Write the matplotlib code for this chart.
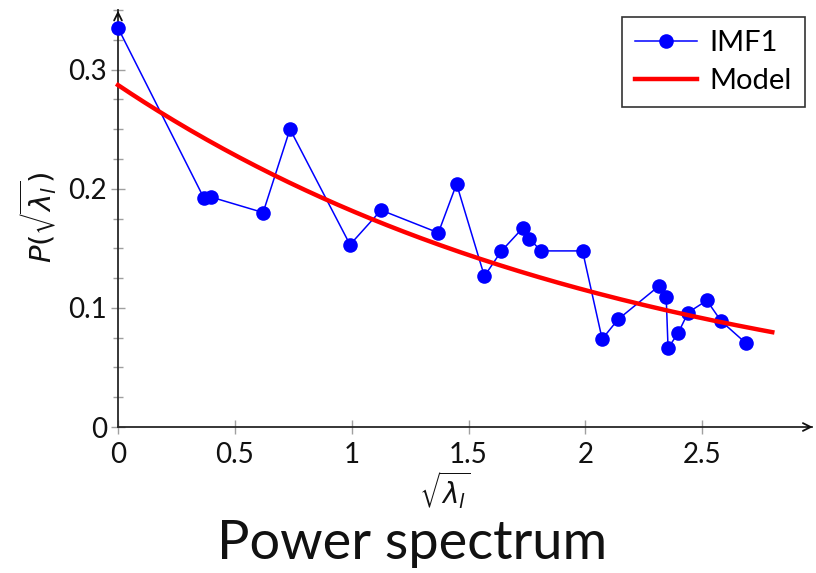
import numpy as np
import matplotlib
matplotlib.use("Agg")
import matplotlib.pyplot as plt
from matplotlib.ticker import FixedLocator
from matplotlib import font_manager

plt.rcParams['font.family'] = ['Lato', 'DejaVu Sans']
plt.rcParams['mathtext.fontset'] = 'dejavusans'

# IMF1 data
imf_x = [0.0, 0.368, 0.398, 0.621, 0.736, 0.993, 1.126, 1.371, 1.449, 1.568,
         1.640, 1.732, 1.761, 1.810, 1.988, 2.072, 2.140, 2.316, 2.346, 2.354,
         2.397, 2.440, 2.520, 2.581, 2.687]
imf_y = [0.335, 0.192, 0.193, 0.180, 0.250, 0.153, 0.182, 0.163, 0.204, 0.1266,
         0.1475, 0.167, 0.158, 0.1478, 0.1478, 0.0738, 0.0903, 0.1185, 0.1092, 0.0662,
         0.0788, 0.0961, 0.1062, 0.0889, 0.0704]

# Model: exponential decay a*exp(-b*x) over [0, 2.8]
model_a = 0.287
model_b = 0.458
model_xmax = 2.8

x_ticks = [0, 0.5, 1, 1.5, 2, 2.5]
x_ticklabels = ['0', '0.5', '1', '1.5', '2', '2.5']
y_ticks = [0, 0.1, 0.2, 0.3]
y_ticklabels = ['0', '0.1', '0.2', '0.3']
y_minor = [0.025, 0.05, 0.075, 0.125, 0.15, 0.175, 0.225, 0.25, 0.275, 0.325, 0.35]

fig = plt.figure(figsize=(8.16, 5.73), dpi=100)
ax = fig.add_axes([118/816, 1-427/573, 694/816, 417/573])

mx = np.linspace(0, model_xmax, 200)
my = model_a * np.exp(-model_b * mx)

ax.plot(imf_x, imf_y, color='#0000ff', lw=1.1, marker='o', markersize=10.5,
        markeredgewidth=0, label='IMF1', clip_on=False, zorder=3)
ax.plot(mx, my, color='#ff0000', lw=3.2, label='Model', clip_on=False, zorder=4)

ax.set_xlim(0, 2.97)
ax.set_ylim(0, 0.35)

for s in ['top', 'right']:
    ax.spines[s].set_visible(False)
for s in ['left', 'bottom']:
    ax.spines[s].set_color('#262626')
    ax.spines[s].set_linewidth(1.3)

ax.xaxis.set_major_locator(FixedLocator(x_ticks))
ax.set_xticklabels(x_ticklabels)
ax.yaxis.set_major_locator(FixedLocator(y_ticks))
ax.set_yticklabels(y_ticklabels)
ax.yaxis.set_minor_locator(FixedLocator(y_minor))

ax.tick_params(axis='both', which='major', direction='inout', length=10, width=1.0,
               color='#a0a0a0', labelsize=20, pad=3, labelcolor='#111111')
ax.tick_params(axis='y', which='minor', direction='inout', length=7, width=1.0,
               color='#a0a0a0')
ax.tick_params(axis='x', pad=6)

# arrows on axes
ax.annotate('', xy=(1.005, 0), xytext=(0.99, 0), xycoords='axes fraction',
            arrowprops=dict(arrowstyle='->', color='#111111', lw=1.3, mutation_scale=14),
            annotation_clip=False)
ax.annotate('', xy=(0, 1.005), xytext=(0, 0.98), xycoords='axes fraction',
            arrowprops=dict(arrowstyle='->', color='#111111', lw=1.3, mutation_scale=14),
            annotation_clip=False)

fig.text(445/816, 1-490/573, r'$\sqrt{\lambda_l}$', ha='center', va='center',
         fontsize=20, color='#111111')
fig.text(38/816, 1-218/573, r'$P(\sqrt{\lambda_l})$', ha='center', va='center',
         rotation=90, fontsize=21, color='#111111')

leg = ax.legend(loc='upper right', bbox_to_anchor=(805/816, 1-17/573),
                bbox_transform=fig.transFigure, fontsize=21, frameon=True,
                fancybox=False, edgecolor='#333333', framealpha=1,
                handlelength=2.1, handletextpad=0.45, borderpad=0.45,
                labelspacing=0.4, borderaxespad=0)
leg.get_frame().set_linewidth(1.2)

names = {f.name for f in font_manager.fontManager.ttflist}
if 'Liberation Sans Narrow' in names:
    title_family = ['Liberation Sans Narrow']
    title_size = 46
else:
    title_family = ['Lato']
    title_size = 39
fig.text(412/816, 1-559/573, 'Power spectrum', ha='center', va='baseline',
         fontsize=title_size, family=title_family, color='#111111')

fig.savefig('out.png', dpi=100)
